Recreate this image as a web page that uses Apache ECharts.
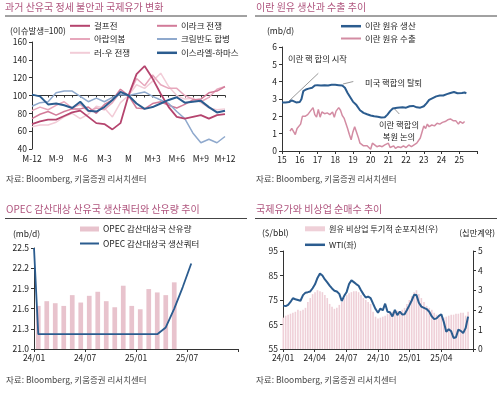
<!DOCTYPE html>
<html><head><meta charset="utf-8">
<script src="https://cdn.jsdelivr.net/npm/echarts@6/dist/echarts.min.js"></script>
<style>html,body{margin:0;padding:0;background:#fff}#c{width:500px;height:394px}</style>
</head><body><div id="c"></div>
<script>
const FONT = '"Noto Sans CJK KR", "Noto Sans", sans-serif';

// ---------- Panel 1: 과거 산유국 정세 불안과 국제유가 변화 ----------
const p1Months = ['M-12','M-11','M-10','M-9','M-8','M-7','M-6','M-5','M-4','M-3','M-2','M-1','M',
  'M+1','M+2','M+3','M+4','M+5','M+6','M+7','M+8','M+9','M+10','M+11','M+12'];
const p1Gulf   = [68,71,73,73,77,81,83,76,69,68,62,69,100,124,133,119,102,87,76,74,76,78,74,78,79];
const p1Iraq   = [74,79,82,78,82,85,85,87,80,90,95,107,100,86,85,91,93,89,86,90,95,96,103,105,110];
const p1Arab   = [83,87,84,89,93,86,90,82,86,84,92,104,100,119,111,123,112,108,108,100,96,93,98,107,110];
const p1Crimea = [88,92,93,103,105,105,99,93,97,93,98,101,100,102,104,99,95,91,82,74,58,47,51,47,54];
const p1Russia = [65,67,67,70,76,80,74,79,88,86,76,92,100,112,108,116,125,110,100,96,97,92,86,84,85];
const p1Israel = [101,99,90,91,89,86,93,83,82,87,95,104,100,91,85,87,91,95,98,92,93,94,87,81,83];

// ---------- Panel 2: 이란 원유 생산과 수출 추이 (year, mb/d) ----------
const p2Production = [[15.0,2.8],[15.2,2.8],[15.4,2.82],[15.55,2.92],[15.65,2.85],[15.8,2.8],[16.0,2.82],[16.1,3.0],
  [16.2,3.45],[16.35,3.55],[16.5,3.6],[16.7,3.65],[16.85,3.78],[17.0,3.8],[17.2,3.78],[17.4,3.8],[17.6,3.78],
  [17.8,3.82],[18.0,3.82],[18.2,3.8],[18.4,3.78],[18.55,3.65],[18.7,3.35],[18.85,3.1],[19.0,2.85],[19.2,2.65],
  [19.4,2.35],[19.6,2.2],[19.8,2.12],[20.0,2.05],[20.2,2.0],[20.4,1.97],[20.6,1.93],[20.8,1.95],[20.95,2.1],
  [21.1,2.3],[21.25,2.45],[21.5,2.5],[21.8,2.52],[22.0,2.5],[22.2,2.58],[22.4,2.6],[22.6,2.52],[22.8,2.5],
  [23.0,2.58],[23.15,2.75],[23.3,2.95],[23.5,3.05],[23.7,3.15],[23.9,3.2],[24.1,3.2],[24.3,3.28],[24.5,3.35],
  [24.7,3.4],[24.9,3.33],[25.0,3.38],[25.15,3.35],[25.3,3.38],[25.4,3.33]];
const p2Exports = [[15.45,1.15],[15.55,1.3],[15.65,1.2],[15.75,0.95],[15.85,1.3],[15.95,1.35],[16.05,1.55],[16.15,2.0],
  [16.3,2.0],[16.45,2.1],[16.6,2.3],[16.75,2.5],[16.85,2.1],[16.95,1.95],[17.05,2.4],[17.15,1.95],[17.25,2.25],
  [17.4,2.15],[17.55,2.2],[17.7,2.1],[17.85,2.25],[17.95,1.95],[18.05,2.3],[18.2,2.5],[18.3,2.35],[18.4,2.05],
  [18.5,1.9],[18.6,1.6],[18.7,1.3],[18.8,0.95],[18.9,0.65],[19.0,1.1],[19.1,1.4],[19.2,1.3],[19.3,0.8],[19.4,0.45],
  [19.5,0.35],[19.6,0.3],[19.7,0.4],[19.8,0.3],[19.9,0.25],[20.0,0.1],[20.1,0.45],[20.2,0.35],[20.35,0.25],
  [20.5,0.3],[20.65,0.25],[20.8,0.35],[20.9,0.3],[21.0,0.45],[21.1,0.2],[21.2,0.15],[21.3,0.3],[21.4,0.15],
  [21.55,0.25],[21.7,0.2],[21.85,0.3],[22.0,0.2],[22.15,0.35],[22.3,0.25],[22.45,0.35],[22.6,0.45],[22.7,0.5],
  [22.8,0.75],[22.9,1.1],[23.0,1.45],[23.1,1.3],[23.2,1.55],[23.3,1.4],[23.45,1.5],[23.6,1.45],[23.75,1.6],
  [23.9,1.55],[24.05,1.65],[24.2,1.7],[24.35,1.8],[24.5,1.85],[24.65,1.75],[24.8,1.75],[24.95,1.55],[25.05,1.7],
  [25.2,1.6],[25.3,1.7]];
const p2YearLabels = ['15','16','17','18','19','20','21','22','23','24','25'];

// ---------- Panel 3: OPEC 감산대상 산유국 생산쿼터와 산유량 ----------
const p3Months = ['24/01','24/02','24/03','24/04','24/05','24/06','24/07','24/08','24/09','24/10','24/11','24/12',
  '25/01','25/02','25/03','25/04','25/05','25/06','25/07'];
const p3Output = [21.64,21.71,21.68,21.64,21.80,21.69,21.79,21.85,21.71,21.62,21.94,21.64,21.59,21.89,21.84,21.80,21.99];
const p3QuotaStart = 22.5;
const p3Quota = [21.22,21.22,21.22,21.22,21.22,21.22,21.22,21.22,21.22,21.22,21.22,21.22,21.22,21.22,21.22,21.32,21.60,21.92,22.27];
const p3TickLabels = ['24/01','24/07','25/01','25/07'];

// ---------- Panel 4: 국제유가와 비상업 순매수 (weekly from 2024-01-02) ----------
const p4Start = [2024, 0, 2];
const p4WTI = [72.7,72.5,73.0,74.2,75.7,75.3,75.0,74.7,77.0,78.0,78.2,78.5,79.8,81.4,84.0,85.8,85.0,83.4,82.2,80.9,
  79.7,78.8,78.5,77.5,74.6,76.7,78.3,81.5,83.0,82.3,81.5,80.8,79.0,77.4,76.0,76.4,75.8,73.5,71.3,69.8,71.5,70.8,
  73.5,70.2,70.0,68.3,71.0,68.8,70.3,69.1,69.2,70.9,72.8,74.8,77.1,77.0,73.9,72.3,71.8,71.3,70.2,68.3,67.2,67.5,
  68.5,69.2,66.0,62.0,63.1,62.2,59.5,59.8,62.9,62.4,61.5,63.5,68.2];
const p4NetPos = [1.6,1.7,1.75,1.8,1.85,1.9,2.0,1.95,2.0,2.1,2.4,2.6,2.8,2.9,3.0,2.95,2.9,2.75,2.6,2.3,2.15,2.05,2.1,
  2.25,2.4,2.6,2.75,2.85,2.9,2.95,2.95,2.9,2.75,2.6,2.5,2.4,2.3,1.9,1.65,1.55,1.6,1.65,1.7,1.8,1.85,1.9,1.9,1.95,
  1.9,2.0,2.1,2.3,2.5,2.7,2.9,3.0,2.8,2.6,2.4,2.2,2.1,2.0,1.85,1.75,1.7,1.7,1.6,1.65,1.7,1.75,1.75,1.8,1.8,1.85,
  1.85,1.7,1.9];
const p4TickLabels = ['24/01','24/04','24/07','24/10','25/01','25/04'];

// ---------- helpers ----------
function weekToMonth(i) {
  const d = new Date(p4Start[0], p4Start[1], p4Start[2] + 7 * i);
  const dim = new Date(d.getFullYear(), d.getMonth() + 1, 0).getDate();
  return (d.getFullYear() - 2024) * 12 + d.getMonth() + (d.getDate() - 1) / dim;
}
const wtiData = p4WTI.map((v, i) => [weekToMonth(i), v]);
const netData = p4NetPos.map((v, i) => [weekToMonth(i), v]);
const outData = p3Output.map((v, i) => [i + 0.5, v]);
const quotaData = [[0, p3QuotaStart]].concat(p3Quota.map((v, i) => [i + 0.5, v]));

const AX = '#333';
const TICKFS = 8.5;
const lbl = (extra) => Object.assign({ color: '#222', fontSize: TICKFS, fontFamily: FONT, margin: 5 }, extra || {});
const base = (extra) => Object.assign({
  axisLine: { show: true, lineStyle: { color: AX, width: 1 } },
  axisTick: { show: true, length: 3, lineStyle: { color: AX } },
  axisLabel: lbl(),
  splitLine: { show: false }
}, extra);

const grids = [
  { left: 32, top: 42, width: 193, height: 107 },
  { left: 282, top: 47, width: 195, height: 104 },
  { left: 34, top: 248, width: 204, height: 101 },
  { left: 283, top: 251, width: 190, height: 98 }
];

const C = {
  gulf: '#b5446e', iraq: '#d27b99', arab: '#e7a7bc', crimea: '#8fa9cd', russia: '#f2ccd7', israel: '#2b5c8f',
  blue: '#2b5c8f', pinkLine: '#d38ca3', bar3: '#e8c3cd', bar4: '#efd0d8'
};

function lg(name, left, cy, h, w, fs) {
  fs = fs || 8.5;
  const hh = Math.max(h, fs + 1);
  return { data: [name], left: left, top: cy - hh / 2, padding: 0, icon: 'rect', itemWidth: w,
    itemHeight: h, itemGap: 0, selectedMode: false,
    textStyle: { fontSize: fs, color: '#222', fontFamily: FONT, padding: [0, 0, 0, -1] } };
}

const titleStyle = { fontSize: 10, color: '#b0567f', fontFamily: FONT, fontWeight: 'normal' };
function txt(x, y, s, opt) {
  opt = opt || {};
  return { type: 'text', x: x, y: y, silent: true, style: { text: s, fill: opt.color || '#222',
    font: (opt.size || 8.5) + 'px ' + FONT, textAlign: opt.align || 'left', textVerticalAlign: 'middle',
    align: opt.align || 'left', verticalAlign: 'middle' } };
}
function seg(x1, y1, x2, y2, color, w) {
  return { type: 'line', silent: true, shape: { x1: x1, y1: y1, x2: x2, y2: y2 },
    style: { stroke: color, lineWidth: w || 1 } };
}
const SRC = '자료: Bloomberg, 키움증권 리서치센터';

const option = {
  animation: false,
  backgroundColor: '#fff',
  title: [
    { text: '과거 산유국 정세 불안과 국제유가 변화', left: 5, top: 2, padding: 0, textStyle: titleStyle },
    { text: '이란 원유 생산과 수출 추이', left: 256, top: 2, padding: 0, textStyle: titleStyle },
    { text: 'OPEC 감산대상 산유국 생산쿼터와 산유량 추이', left: 6, top: 204, padding: 0, textStyle: titleStyle },
    { text: '국제유가와 비상업 순매수 추이', left: 256, top: 204, padding: 0, textStyle: titleStyle }
  ],
  grid: grids,
  legend: [
    lg('걸프전', 70, 26.3, 2, 20), lg('이라크 전쟁', 157, 26.3, 2, 20),
    lg('아랍의봄', 70, 39.5, 2, 20), lg('크림반도 합병', 157, 39.5, 2, 20),
    lg('러-우 전쟁', 70, 53.3, 2, 20), lg('이스라엘-하마스', 157, 53.3, 2.5, 20),
    lg('이란 원유 생산', 341, 26.7, 2.5, 20), lg('이란 원유 수출', 341, 39, 2, 20),
    lg('OPEC 감산대상국 산유량', 80, 229.5, 5, 19), lg('OPEC 감산대상국 생산쿼터', 80, 244, 2, 19),
    lg('원유 비상업 투기적 순포지션(우)', 305, 229.3, 5, 20, 8.2), lg('WTI(좌)', 305, 245.3, 2.5, 20, 8.2)
  ],
  xAxis: [
    base({ gridIndex: 0, type: 'category', data: p1Months, boundaryGap: false,
      axisLine: { show: false }, axisTick: { show: false },
      axisLabel: lbl({ margin: 6, interval: 2 }) }),
    base({ gridIndex: 0, type: 'category', data: p1Months, boundaryGap: false, position: 'bottom',
      offset: -107 * (100 - 40) / (160 - 40),
      axisLabel: { show: false }, axisTick: { show: true, length: 2, interval: 0, lineStyle: { color: AX } } }),
    base({ gridIndex: 1, type: 'value', min: 15, max: 26, interval: 1,
      axisLabel: lbl({ formatter: v => p2YearLabels[Math.round(v) - 15] || '' }) }),
    base({ gridIndex: 2, type: 'value', min: 0, max: 24, interval: 6,
      axisLabel: lbl({ formatter: v => p3TickLabels[Math.round(v / 6)] || '' }) }),
    base({ gridIndex: 3, type: 'value', min: 0, max: 18, interval: 3,
      axisLabel: lbl({ formatter: v => p4TickLabels[Math.round(v / 3)] || '' }) })
  ],
  yAxis: [
    base({ gridIndex: 0, type: 'value', min: 40, max: 160, interval: 20 }),
    base({ gridIndex: 1, type: 'value', min: 0, max: 6, interval: 1 }),
    base({ gridIndex: 2, type: 'value', min: 21.0, max: 22.5, interval: 0.3,
      axisLabel: lbl({ formatter: v => v.toFixed(1) }) }),
    base({ gridIndex: 3, type: 'value', min: 55, max: 95, interval: 10 }),
    base({ gridIndex: 3, type: 'value', min: 0, max: 5, interval: 1, position: 'right' })
  ],
  series: [
    { name: '러-우 전쟁', type: 'line', xAxisIndex: 0, yAxisIndex: 0, data: p1Russia, symbol: 'none',
      lineStyle: { color: C.russia, width: 1.5 }, itemStyle: { color: C.russia } },
    { name: '아랍의봄', type: 'line', xAxisIndex: 0, yAxisIndex: 0, data: p1Arab, symbol: 'none',
      lineStyle: { color: C.arab, width: 1.5 }, itemStyle: { color: C.arab } },
    { name: '이라크 전쟁', type: 'line', xAxisIndex: 0, yAxisIndex: 0, data: p1Iraq, symbol: 'none',
      lineStyle: { color: C.iraq, width: 1.5 }, itemStyle: { color: C.iraq } },
    { name: '크림반도 합병', type: 'line', xAxisIndex: 0, yAxisIndex: 0, data: p1Crimea, symbol: 'none',
      lineStyle: { color: C.crimea, width: 1.5 }, itemStyle: { color: C.crimea } },
    { name: '걸프전', type: 'line', xAxisIndex: 0, yAxisIndex: 0, data: p1Gulf, symbol: 'none',
      lineStyle: { color: C.gulf, width: 1.8 }, itemStyle: { color: C.gulf } },
    { name: '이스라엘-하마스', type: 'line', xAxisIndex: 0, yAxisIndex: 0, data: p1Israel, symbol: 'none',
      lineStyle: { color: C.israel, width: 2 }, itemStyle: { color: C.israel } },

    { name: '이란 원유 생산', type: 'line', xAxisIndex: 2, yAxisIndex: 1, data: p2Production, symbol: 'none',
      lineStyle: { color: C.blue, width: 2 }, itemStyle: { color: C.blue } },
    { name: '이란 원유 수출', type: 'line', xAxisIndex: 2, yAxisIndex: 1, data: p2Exports, symbol: 'none',
      lineStyle: { color: C.pinkLine, width: 1.5 }, itemStyle: { color: C.pinkLine } },

    { name: 'OPEC 감산대상국 산유량', type: 'bar', xAxisIndex: 3, yAxisIndex: 2, data: outData, barWidth: 4.7,
      itemStyle: { color: C.bar3 } },
    { name: 'OPEC 감산대상국 생산쿼터', type: 'line', xAxisIndex: 3, yAxisIndex: 2, data: quotaData, symbol: 'none',
      lineStyle: { color: C.blue, width: 1.8 }, itemStyle: { color: C.blue } },

    { name: '원유 비상업 투기적 순포지션(우)', type: 'bar', xAxisIndex: 4, yAxisIndex: 4, data: netData, barWidth: 1.6,
      itemStyle: { color: C.bar4 } },
    { name: 'WTI(좌)', type: 'line', xAxisIndex: 4, yAxisIndex: 3, data: wtiData, symbol: 'none',
      lineStyle: { color: C.blue, width: 2 }, itemStyle: { color: C.blue } }
  ],
  graphic: [
    seg(5, 16, 247, 16, '#444', 1), seg(255, 16, 497, 16, '#444', 1),
    seg(5, 218.5, 247, 218.5, '#444', 1), seg(255, 218.5, 497, 218.5, '#444', 1),
    txt(10, 30.3, '(이슈발생=100)'),
    txt(267, 30.3, '(mb/d)'),
    txt(13, 234, '(mb/d)'),
    txt(262, 232.7, '($/bbl)'),
    txt(495, 233, '(십만계약)', { align: 'right', size: 8.2 }),
    txt(288, 59.3, '이란 핵 합의 시작', { size: 8.3 }),
    txt(365, 82.5, '미국 핵합의 탈퇴', { size: 8.3 }),
    txt(399, 125, '이란 핵합의', { size: 8.3, align: 'center' }),
    txt(399, 137.3, '복원 논의', { size: 8.3, align: 'center' }),
    seg(288.5, 101.5, 318.3, 73.3, '#999', 1),
    seg(343, 84, 353.3, 81.5, '#999', 1),
    seg(394, 108.3, 399.3, 114, '#999', 1),
    txt(6, 178.3, SRC, { size: 8.5, color: '#444' }),
    txt(256, 178.3, SRC, { size: 8.5, color: '#444' }),
    txt(6, 379.3, SRC, { size: 8.5, color: '#444' }),
    txt(256, 379.3, SRC, { size: 8.5, color: '#444' })
  ]
};

const chart = echarts.init(document.getElementById('c'), null, { renderer: 'canvas' });
chart.setOption(option);
</script>
</body></html>
